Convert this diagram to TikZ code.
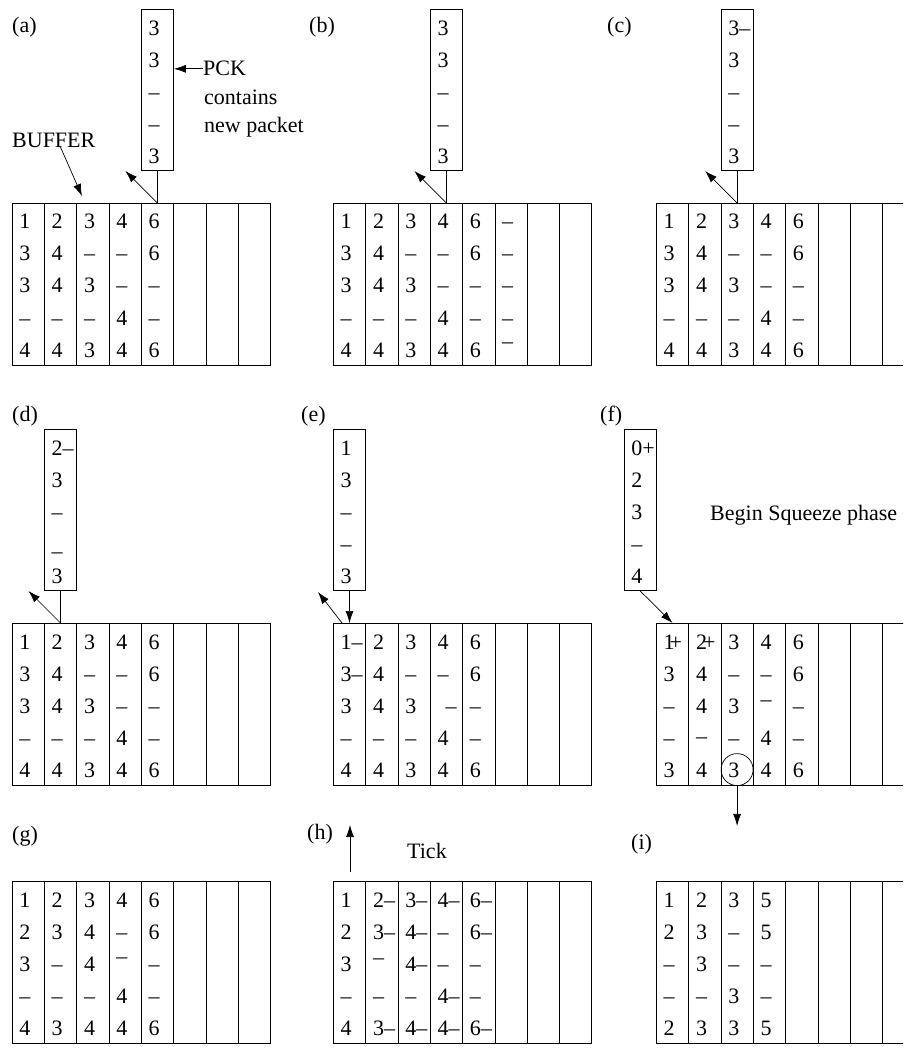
\documentclass[tikz,border=0pt]{standalone}
\usepackage{fontspec}
\setmainfont{Liberation Serif}
\usetikzlibrary{arrows.meta,calc}

\tikzset{
  gcol/.style={draw, line width=0.7pt, minimum width=32.3pt, minimum height=162pt, inner sep=0pt, anchor=north west},
  pbox/.style={draw, line width=0.7pt, minimum width=32.3pt, minimum height=161pt, inner sep=0pt, anchor=south},
  cell/.style={anchor=base west, inner sep=0pt},
  lbl/.style={anchor=base west, inner sep=0pt},
  arr/.style={-{Latex[length=12pt,width=8pt]}, line width=0.7pt},
  conn/.style={line width=0.7pt},
  ring/.style={draw, circle, minimum size=32pt, inner sep=0pt, line width=0.7pt},
}

% grid of 8 columns: #1 name, #2 x, #3 y
\newcommand\BufGrid[3]{%
  \foreach \i in {1,...,8} {\node[gcol] (#1C\i) at ({#2+(\i-1)*32.3}, #3) {};}}
% one row of a grid: #1 grid name, #2 row, #3 entries
\newcommand\GRow[3]{%
  \foreach \t [count=\c] in {#3} {\node[cell] (#1-\c-#2) at ($(#1C\c.north west)+(7.5,{26+(#2-1)*32})$) {\t};}}
% entries of a packet box: #1 box name, #2 entries
\newcommand\BRows[2]{%
  \foreach \t [count=\r] in {#2} {\node[cell] (#1-e\r) at ($(#1.north west)+(7.5,{26+(\r-1)*32})$) {\t};}}

\begin{document}
\begin{tikzpicture}[x=1pt,y=-1pt,font=\fontsize{22pt}{26pt}\selectfont]
\useasboundingbox (0,0) rectangle (903,1048);
\clip (0,0) rectangle (903,1048);

% ---------------- labels
\node[lbl] (la) at (12,33) {(a)};
\node[lbl] (lb) at (309,33) {(b)};
\node[lbl] (lc) at (607,33) {(c)};
\node[lbl] (ld) at (12,421) {(d)};
\node[lbl] (le) at (301,421) {(e)};
\node[lbl] (lf) at (600,421) {(f)};
\node[lbl] (lg) at (12,841) {(g)};
\node[lbl] (lh) at (307,839) {(h)};
\node[lbl] (li) at (631,849) {(i)};

% ---------------- (a)
\BufGrid{a}{11.7}{203}
\GRow{a}{1}{1,2,3,4,6}
\GRow{a}{2}{3,4,–,–,6}
\GRow{a}{3}{3,4,3,–,–}
\GRow{a}{4}{–,–,–,4,–}
\GRow{a}{5}{4,4,3,4,6}
\node[pbox] (aP) at ([yshift=32pt]aC5.north) {};
\BRows{aP}{3,3,–,–,3}
\draw[conn] (aP.south) -- (aC5.north);
\coordinate (aT) at ($(aC5.north)+(-32,-32)$);
\draw[arr] (aC5.north) -- (aT);
\node[lbl] (pck) at (203,76) {PCK};
\node[lbl] (cont) at (204,105) {contains};
\node[lbl] (newp) at (204,133) {new packet};
\draw[arr] (pck.west) -- (pck.west -| aP.east);
\node[lbl] (buf) at (12,148) {BUFFER};
\coordinate (bufS) at (60,146);
\coordinate (bufT) at (82,196);
\draw[arr] (bufS) -- (bufT);

% ---------------- (b)
\BufGrid{b}{333}{203}
\GRow{b}{1}{1,2,3,4,6,–}
\GRow{b}{2}{3,4,–,–,6,–}
\GRow{b}{3}{3,4,3,–,–,–}
\GRow{b}{4}{–,–,–,4,–,–}
\GRow{b}{5}{4,4,3,4,6,\raisebox{9pt}{–}}
\node[pbox] (bP) at ([yshift=32pt]bC4.north) {};
\BRows{bP}{3,3,–,–,3}
\draw[conn] (bP.south) -- (bC4.north);
\coordinate (bT) at ($(bC4.north)+(-32,-32)$);
\draw[arr] (bC4.north) -- (bT);

% ---------------- (c)
\BufGrid{c}{656}{203}
\GRow{c}{1}{1,2,3,4,6}
\GRow{c}{2}{3,4,–,–,6}
\GRow{c}{3}{3,4,3,–,–}
\GRow{c}{4}{–,–,–,4,–}
\GRow{c}{5}{4,4,3,4,6}
\node[pbox] (cP) at ([yshift=32pt]cC3.north) {};
\BRows{cP}{3–,3,–,–,3}
\draw[conn] (cP.south) -- (cC3.north);
\coordinate (cT) at ($(cC3.north)+(-32,-32)$);
\draw[arr] (cC3.north) -- (cT);

% ---------------- (d)
\BufGrid{d}{11.7}{623}
\GRow{d}{1}{1,2,3,4,6}
\GRow{d}{2}{3,4,–,–,6}
\GRow{d}{3}{3,4,3,–,–}
\GRow{d}{4}{–,–,–,4,–}
\GRow{d}{5}{4,4,3,4,6}
\node[pbox] (dP) at ([yshift=32pt]dC2.north) {};
\BRows{dP}{2–,3,–,\raisebox{-7pt}{–},3}
\draw[conn] (dP.south) -- (dC2.north);
\coordinate (dT) at ($(dC2.north)+(-32,-32)$);
\draw[arr] (dC2.north) -- (dT);

% ---------------- (e)
\BufGrid{e}{333}{623}
\GRow{e}{1}{1–,2,3,4,6}
\GRow{e}{2}{3–,4,–,–,6}
\GRow{e}{3}{3,4,3,\kern8pt–,–}
\GRow{e}{4}{–,–,–,4,–}
\GRow{e}{5}{4,4,3,4,6}
\node[pbox] (eP) at ([yshift=32pt]eC1.north) {};
\BRows{eP}{1,3,–,–,3}
\draw[arr] (eP.south) -- (eC1.north);
\coordinate (eS) at ($(eC1.north west)+(9,0)$);
\coordinate (eT) at ($(eS)+(-24,-31)$);
\draw[arr] (eS) -- (eT);

% ---------------- (f)
\BufGrid{f}{656}{623}
\GRow{f}{1}{1\kern-5pt+,2\kern-4pt+,3,4,6}
\GRow{f}{2}{3,4,–,–,6}
\GRow{f}{3}{–,4,3,\raisebox{7pt}{–},–}
\GRow{f}{4}{–,\raisebox{2pt}{–},–,4,–}
\GRow{f}{5}{3,4,3,4,6}
\node[pbox] (fP) at ([yshift=32pt,xshift=-32.3pt]fC1.north) {};
\BRows{fP}{0+,2,3,–,4}
\draw[arr] (fP.south) -- (fC1.north);
\node[lbl] (bsq) at (710,520) {Begin Squeeze phase};
\node[ring] (fcirc) at ($(fC3.north)+(0,146.6)$) {};
\coordinate (fD) at ($(fcirc.south)+(0,40)$);
\draw[arr] (fcirc.south) -- (fD);

% ---------------- (g)
\BufGrid{g}{11.7}{881}
\GRow{g}{1}{1,2,3,4,6}
\GRow{g}{2}{2,3,4,–,6}
\GRow{g}{3}{3,–,4,\raisebox{8pt}{–},–}
\GRow{g}{4}{–,–,–,4,–}
\GRow{g}{5}{4,3,4,4,6}

% ---------------- (h)
\BufGrid{h}{333}{881}
\GRow{h}{1}{1,2–,3–,4–,6–}
\GRow{h}{2}{2,3–,4–,–,6–}
\GRow{h}{3}{3,\raisebox{7pt}{–},4–,–,–}
\GRow{h}{4}{–,–,–,4–,–}
\GRow{h}{5}{4,3–,4–,4–,6–}
\coordinate (hA) at (350,872);
\coordinate (hB) at (350,825);
\draw[arr] (hA) -- (hB);
\node[lbl] (tick) at (407,858) {Tick};

% ---------------- (i)
\BufGrid{i}{656}{881}
\GRow{i}{1}{1,2,3,5}
\GRow{i}{2}{2,3,–,5}
\GRow{i}{3}{–,3,–,–}
\GRow{i}{4}{–,–,3,–}
\GRow{i}{5}{2,3,3,5}
\end{tikzpicture}
\end{document}
